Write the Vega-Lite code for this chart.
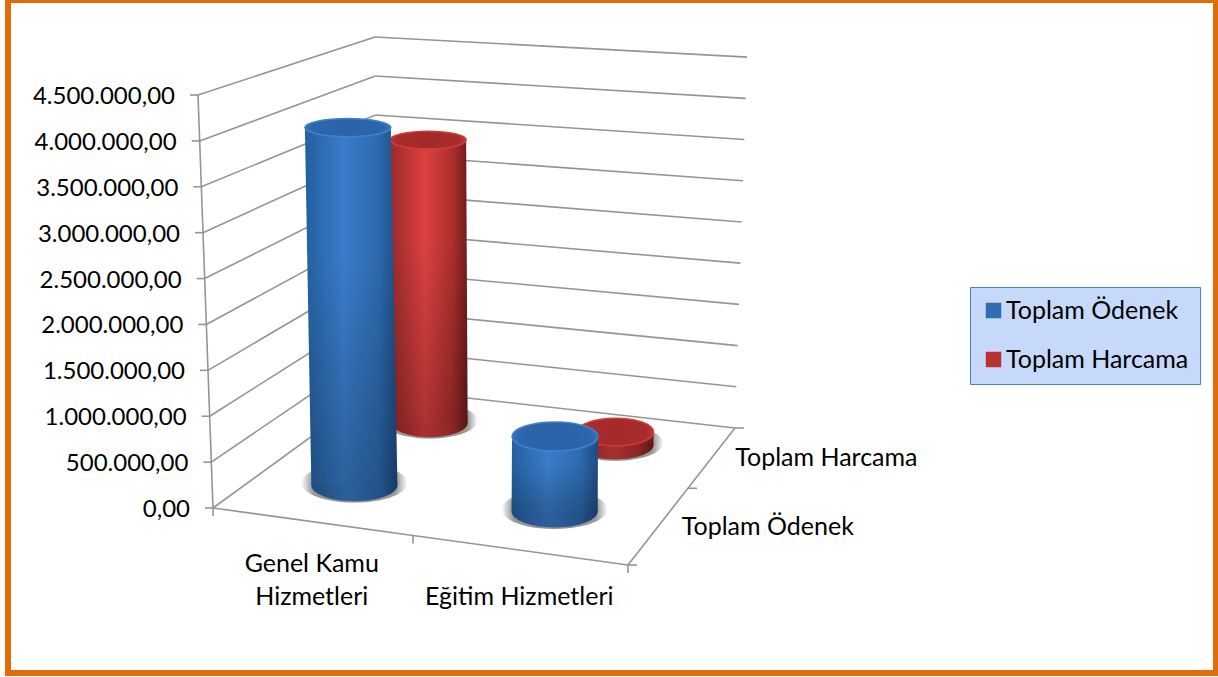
{"$schema":"https://vega.github.io/schema/vega-lite/v6.json","width":1208,"height":673,"padding":{"left":8,"top":0,"right":2,"bottom":4},"autosize":"none","background":"#ffffff","config":{"view":{"stroke":"#e36c0a","strokeWidth":6},"text":{"font":"Lato"}},"datasets":{"bars":[{"category":"Genel Kamu Hizmetleri","series":"Toplam Ödenek","value":4000000},{"category":"Genel Kamu Hizmetleri","series":"Toplam Harcama","value":3430000},{"category":"Eğitim Hizmetleri","series":"Toplam Ödenek","value":820000},{"category":"Eğitim Hizmetleri","series":"Toplam Harcama","value":155000}],"ticks":[{"tick":0,"label":"0,00"},{"tick":500000,"label":"500.000,00"},{"tick":1000000,"label":"1.000.000,00"},{"tick":1500000,"label":"1.500.000,00"},{"tick":2000000,"label":"2.000.000,00"},{"tick":2500000,"label":"2.500.000,00"},{"tick":3000000,"label":"3.000.000,00"},{"tick":3500000,"label":"3.500.000,00"},{"tick":4000000,"label":"4.000.000,00"},{"tick":4500000,"label":"4.500.000,00"}],"breaks":[{"axis":"category","at":0},{"axis":"category","at":0.482},{"axis":"category","at":1},{"axis":"depth","at":0},{"axis":"depth","at":0.56},{"axis":"depth","at":1}],"categories":[{"label":"Genel Kamu|Hizmetleri","at":0.25},{"label":"Eğitim Hizmetleri","at":0.75}],"depths":[{"label":"Toplam Ödenek","at":0.25},{"label":"Toplam Harcama","at":0.75}]},"encoding":{"x":{"field":"sx","type":"quantitative","scale":{"domain":[8,1216],"nice":false,"zero":false},"axis":null},"y":{"field":"sy","type":"quantitative","scale":{"domain":[-1797820,5535109],"nice":false,"zero":false},"axis":null}},"layer":[{"data":{"name":"ticks"},"transform":[{"calculate":"[0,1]","as":"seg"},{"flatten":["seg"]},{"calculate":"datum.tick","as":"w"},{"calculate":"datum.seg==0?0:1","as":"d"},{"calculate":"datum.seg==0?0:1","as":"u"},{"calculate":"(1-datum.d)*213+datum.d*378+datum.w/4500000*((1-datum.d)*-15-datum.d*3)","as":"sx"},{"calculate":"datum.d*1307500+datum.w*((1-datum.d)+datum.d*0.85)","as":"sy"},{"calculate":"(1-datum.u)*378+datum.u*735+datum.w/4500000*((1-datum.u)*-3+datum.u*12)","as":"rawEx"},{"calculate":"(1-datum.u)*1307500+datum.u*871700+datum.w*((1-datum.u)*0.85+datum.u*0.898)","as":"rawEy"},{"calculate":"datum.sx-8","as":"tx"},{"calculate":"datum.sx-23","as":"lx"}],"layer":[{"mark":{"type":"rule","color":"#959595","strokeWidth":1.6},"encoding":{"x2":{"field":"rawEx"},"y2":{"field":"rawEy"}}},{"transform":[{"filter":"datum.seg==0"}],"mark":{"type":"line","color":"#959595","strokeWidth":1.6}},{"transform":[{"filter":"datum.seg==0"}],"mark":{"type":"rule","color":"#959595","strokeWidth":1.6},"encoding":{"x2":{"field":"tx"}}},{"transform":[{"filter":"datum.seg==0"}],"mark":{"type":"text","align":"right","baseline":"middle","dy":2,"fontSize":24,"font":"Lato","color":"#000000"},"encoding":{"x":{"field":"lx","type":"quantitative"},"text":{"field":"label"}}}]},{"data":{"name":"breaks"},"transform":[{"calculate":"datum.axis==='category'?datum.at:1","as":"u"},{"calculate":"datum.axis==='category'?0:datum.at","as":"d"},{"calculate":"(1-datum.d)*((1-datum.u)*213+datum.u*628)+datum.d*((1-datum.u)*378+datum.u*735)","as":"sx"},{"calculate":"(1-datum.d)*(datum.u*-621000)+datum.d*((1-datum.u)*1307500+datum.u*871700)","as":"sy"},{"calculate":"datum.sx+9","as":"tx"},{"calculate":"datum.sy-87000","as":"ty"}],"layer":[{"transform":[{"filter":"datum.axis==='category'"}],"mark":{"type":"line","color":"#959595","strokeWidth":1.6}},{"transform":[{"filter":"datum.axis==='depth'"}],"mark":{"type":"line","color":"#959595","strokeWidth":1.6}},{"transform":[{"filter":"datum.axis==='category'"}],"mark":{"type":"rule","color":"#959595","strokeWidth":1.6},"encoding":{"y2":{"field":"ty"}}},{"transform":[{"filter":"datum.axis==='depth'"}],"mark":{"type":"rule","color":"#959595","strokeWidth":1.6},"encoding":{"x2":{"field":"tx"}}}]},{"data":{"name":"bars"},"transform":[{"calculate":"datum.category==='Genel Kamu Hizmetleri'?0.25:0.75","as":"u"},{"calculate":"datum.series==='Toplam Ödenek'?0.25:0.75","as":"d"},{"calculate":"[0,datum.value]","as":"w"},{"flatten":["w"]},{"calculate":"(1-datum.d)*((1-datum.u)*213+datum.u*628)+datum.d*((1-datum.u)*378+datum.u*735)+datum.w/4500000*((1-datum.d)*((1-datum.u)*-15+datum.u*5)+datum.d*((1-datum.u)*-3+datum.u*12))","as":"sx"},{"calculate":"65000+(1-datum.d)*(datum.u*-621000)+datum.d*((1-datum.u)*1307500+datum.u*871700)+datum.w*((1-datum.d)*((1-datum.u)+datum.u*1.046)+datum.d*((1-datum.u)*0.85+datum.u*0.898))","as":"sy"},{"calculate":"datum.sy+25000","as":"shadowY"},{"calculate":"datum.d<0.5?43:38","as":"rx"},{"calculate":"datum.sx-datum.rx","as":"xl"},{"calculate":"datum.sx+datum.rx","as":"xr"},{"calculate":"0.37-0.04*datum.w/1000000","as":"r"},{"calculate":"'M-1,0C-1,'+(-0.5523*datum.r)+' -0.5523,'+(-datum.r)+' 0,'+(-datum.r)+'C0.5523,'+(-datum.r)+' 1,'+(-0.5523*datum.r)+' 1,0C1,'+(0.5523*datum.r)+' 0.5523,'+datum.r+' 0,'+datum.r+'C-0.5523,'+datum.r+' -1,'+(0.5523*datum.r)+' -1,0Z'","as":"ell"},{"calculate":"4*datum.rx*datum.rx","as":"ellSize"},{"calculate":"4*(datum.rx+10)*(datum.rx+10)","as":"shSize"}],"layer":[{"transform":[{"filter":"datum.w==0"}],"mark":{"type":"point","filled":true,"opacity":1,"strokeWidth":0,"fill":{"gradient":"radial","x1":0.5,"y1":0.5,"x2":0.5,"y2":0.5,"r1":0,"r2":0.5,"stops":[{"offset":0,"color":"#888888"},{"offset":0.8,"color":"#9a9a9a"},{"offset":1,"color":"#ffffff"}]}},"encoding":{"y":{"field":"shadowY","type":"quantitative"},"shape":{"field":"ell","type":"nominal","scale":null},"size":{"field":"shSize","type":"quantitative","scale":null}}},{"transform":[{"filter":"datum.w==0"}],"mark":{"type":"point","filled":true,"opacity":1,"size":100},"encoding":{"color":{"field":"series","type":"nominal","scale":{"domain":["Toplam Ödenek","Toplam Harcama"],"range":["#2f6db5","#b83232"]},"legend":{"title":null,"orient":"none","legendX":962,"legendY":287,"symbolType":"square","symbolSize":240,"symbolStrokeWidth":0,"labelFont":"Lato","labelFontSize":25,"labelColor":"#000000","labelOffset":0,"labelLimit":300,"rowPadding":23,"padding":11,"fillColor":"#c6d9fb","strokeColor":"#4f81bd","cornerRadius":0}}}},{"transform":[{"filter":"datum.series==='Toplam Harcama'"}],"layer":[{"transform":[{"filter":"datum.w==0"}],"mark":{"type":"point","filled":true,"opacity":1,"strokeWidth":0,"fill":{"gradient":"linear","x1":0,"y1":0,"x2":1,"y2":0,"stops":[{"offset":0,"color":"#7a2020"},{"offset":0.45,"color":"#aa2f2f"},{"offset":0.8,"color":"#8c2626"},{"offset":1,"color":"#5c1616"}]}},"encoding":{"shape":{"field":"ell","type":"nominal","scale":null},"size":{"field":"ellSize","type":"quantitative","scale":null}}},{"transform":[{"filter":"datum.category==='Genel Kamu Hizmetleri'"}],"mark":{"type":"area","orient":"horizontal","fill":{"gradient":"linear","x1":0,"y1":0,"x2":1,"y2":0,"stops":[{"offset":0,"color":"#9a2a2b"},{"offset":0.45,"color":"#dc4240"},{"offset":0.8,"color":"#ae2f2e"},{"offset":1,"color":"#701b1b"}]}},"encoding":{"x":{"field":"xl","type":"quantitative"},"x2":{"field":"xr"}}},{"transform":[{"filter":"datum.category==='Genel Kamu Hizmetleri'"}],"mark":{"type":"area","orient":"horizontal","fill":{"gradient":"linear","x1":0,"y1":0,"x2":0,"y2":1,"stops":[{"offset":0,"color":"rgba(0,0,0,0)"},{"offset":0.35,"color":"rgba(0,0,0,0)"},{"offset":1,"color":"rgba(0,0,0,0.22)"}]}},"encoding":{"x":{"field":"xl","type":"quantitative"},"x2":{"field":"xr"}}},{"transform":[{"filter":"datum.category==='Eğitim Hizmetleri'"}],"mark":{"type":"area","orient":"horizontal","fill":{"gradient":"linear","x1":0,"y1":0,"x2":1,"y2":0,"stops":[{"offset":0,"color":"#9a2a2b"},{"offset":0.45,"color":"#dc4240"},{"offset":0.8,"color":"#ae2f2e"},{"offset":1,"color":"#701b1b"}]}},"encoding":{"x":{"field":"xl","type":"quantitative"},"x2":{"field":"xr"}}},{"transform":[{"filter":"datum.category==='Eğitim Hizmetleri'"}],"mark":{"type":"area","orient":"horizontal","fill":{"gradient":"linear","x1":0,"y1":0,"x2":0,"y2":1,"stops":[{"offset":0,"color":"rgba(0,0,0,0)"},{"offset":0.35,"color":"rgba(0,0,0,0)"},{"offset":1,"color":"rgba(0,0,0,0.22)"}]}},"encoding":{"x":{"field":"xl","type":"quantitative"},"x2":{"field":"xr"}}},{"transform":[{"filter":"datum.w>0"}],"mark":{"type":"point","filled":true,"opacity":1,"stroke":"#d03c3a","strokeWidth":1.5,"fill":{"gradient":"radial","x1":0.5,"y1":0.5,"x2":0.5,"y2":0.5,"r1":0,"r2":0.5,"stops":[{"offset":0,"color":"#a42b2b"},{"offset":0.8,"color":"#a82c2c"},{"offset":1,"color":"#c23636"}]}},"encoding":{"shape":{"field":"ell","type":"nominal","scale":null},"size":{"field":"ellSize","type":"quantitative","scale":null}}}]},{"transform":[{"filter":"datum.series==='Toplam Ödenek'"}],"layer":[{"transform":[{"filter":"datum.w==0"}],"mark":{"type":"point","filled":true,"opacity":1,"strokeWidth":0,"fill":{"gradient":"linear","x1":0,"y1":0,"x2":1,"y2":0,"stops":[{"offset":0,"color":"#1c4b7c"},{"offset":0.42,"color":"#2d609e"},{"offset":0.8,"color":"#235288"},{"offset":1,"color":"#173a65"}]}},"encoding":{"shape":{"field":"ell","type":"nominal","scale":null},"size":{"field":"ellSize","type":"quantitative","scale":null}}},{"transform":[{"filter":"datum.category==='Genel Kamu Hizmetleri'"}],"mark":{"type":"area","orient":"horizontal","fill":{"gradient":"linear","x1":0,"y1":0,"x2":1,"y2":0,"stops":[{"offset":0,"color":"#24609f"},{"offset":0.42,"color":"#3a7ccb"},{"offset":0.8,"color":"#2d69ad"},{"offset":1,"color":"#1e4b82"}]}},"encoding":{"x":{"field":"xl","type":"quantitative"},"x2":{"field":"xr"}}},{"transform":[{"filter":"datum.category==='Genel Kamu Hizmetleri'"}],"mark":{"type":"area","orient":"horizontal","fill":{"gradient":"linear","x1":0,"y1":0,"x2":0,"y2":1,"stops":[{"offset":0,"color":"rgba(0,0,0,0)"},{"offset":0.35,"color":"rgba(0,0,0,0)"},{"offset":1,"color":"rgba(0,0,0,0.22)"}]}},"encoding":{"x":{"field":"xl","type":"quantitative"},"x2":{"field":"xr"}}},{"transform":[{"filter":"datum.category==='Eğitim Hizmetleri'"}],"mark":{"type":"area","orient":"horizontal","fill":{"gradient":"linear","x1":0,"y1":0,"x2":1,"y2":0,"stops":[{"offset":0,"color":"#24609f"},{"offset":0.42,"color":"#3a7ccb"},{"offset":0.8,"color":"#2d69ad"},{"offset":1,"color":"#1e4b82"}]}},"encoding":{"x":{"field":"xl","type":"quantitative"},"x2":{"field":"xr"}}},{"transform":[{"filter":"datum.category==='Eğitim Hizmetleri'"}],"mark":{"type":"area","orient":"horizontal","fill":{"gradient":"linear","x1":0,"y1":0,"x2":0,"y2":1,"stops":[{"offset":0,"color":"rgba(0,0,0,0)"},{"offset":0.35,"color":"rgba(0,0,0,0)"},{"offset":1,"color":"rgba(0,0,0,0.22)"}]}},"encoding":{"x":{"field":"xl","type":"quantitative"},"x2":{"field":"xr"}}},{"transform":[{"filter":"datum.w>0"}],"mark":{"type":"point","filled":true,"opacity":1,"stroke":"#3f82cf","strokeWidth":1.5,"fill":{"gradient":"radial","x1":0.5,"y1":0.5,"x2":0.5,"y2":0.5,"r1":0,"r2":0.5,"stops":[{"offset":0,"color":"#2a62a6"},{"offset":0.8,"color":"#2c66ab"},{"offset":1,"color":"#3674bf"}]}},"encoding":{"shape":{"field":"ell","type":"nominal","scale":null},"size":{"field":"ellSize","type":"quantitative","scale":null}}}]}]},{"data":{"name":"categories"},"transform":[{"calculate":"213+datum.at*415-5","as":"sx"},{"calculate":"indexof(datum.label,'|')>=0?-740000:-1100000","as":"sy"}],"mark":{"type":"text","align":"center","baseline":"bottom","dy":1,"lineBreak":"|","lineHeight":33,"fontSize":25,"font":"Lato","color":"#000000"},"encoding":{"text":{"field":"label"}}},{"data":{"name":"depths"},"transform":[{"calculate":"628+datum.at*107+27","as":"sx"},{"calculate":"(1-datum.at)*-621000+datum.at*871700+54500","as":"sy"}],"mark":{"type":"text","align":"left","baseline":"middle","dy":1,"fontSize":25,"font":"Lato","color":"#000000"},"encoding":{"text":{"field":"label"}}}]}
